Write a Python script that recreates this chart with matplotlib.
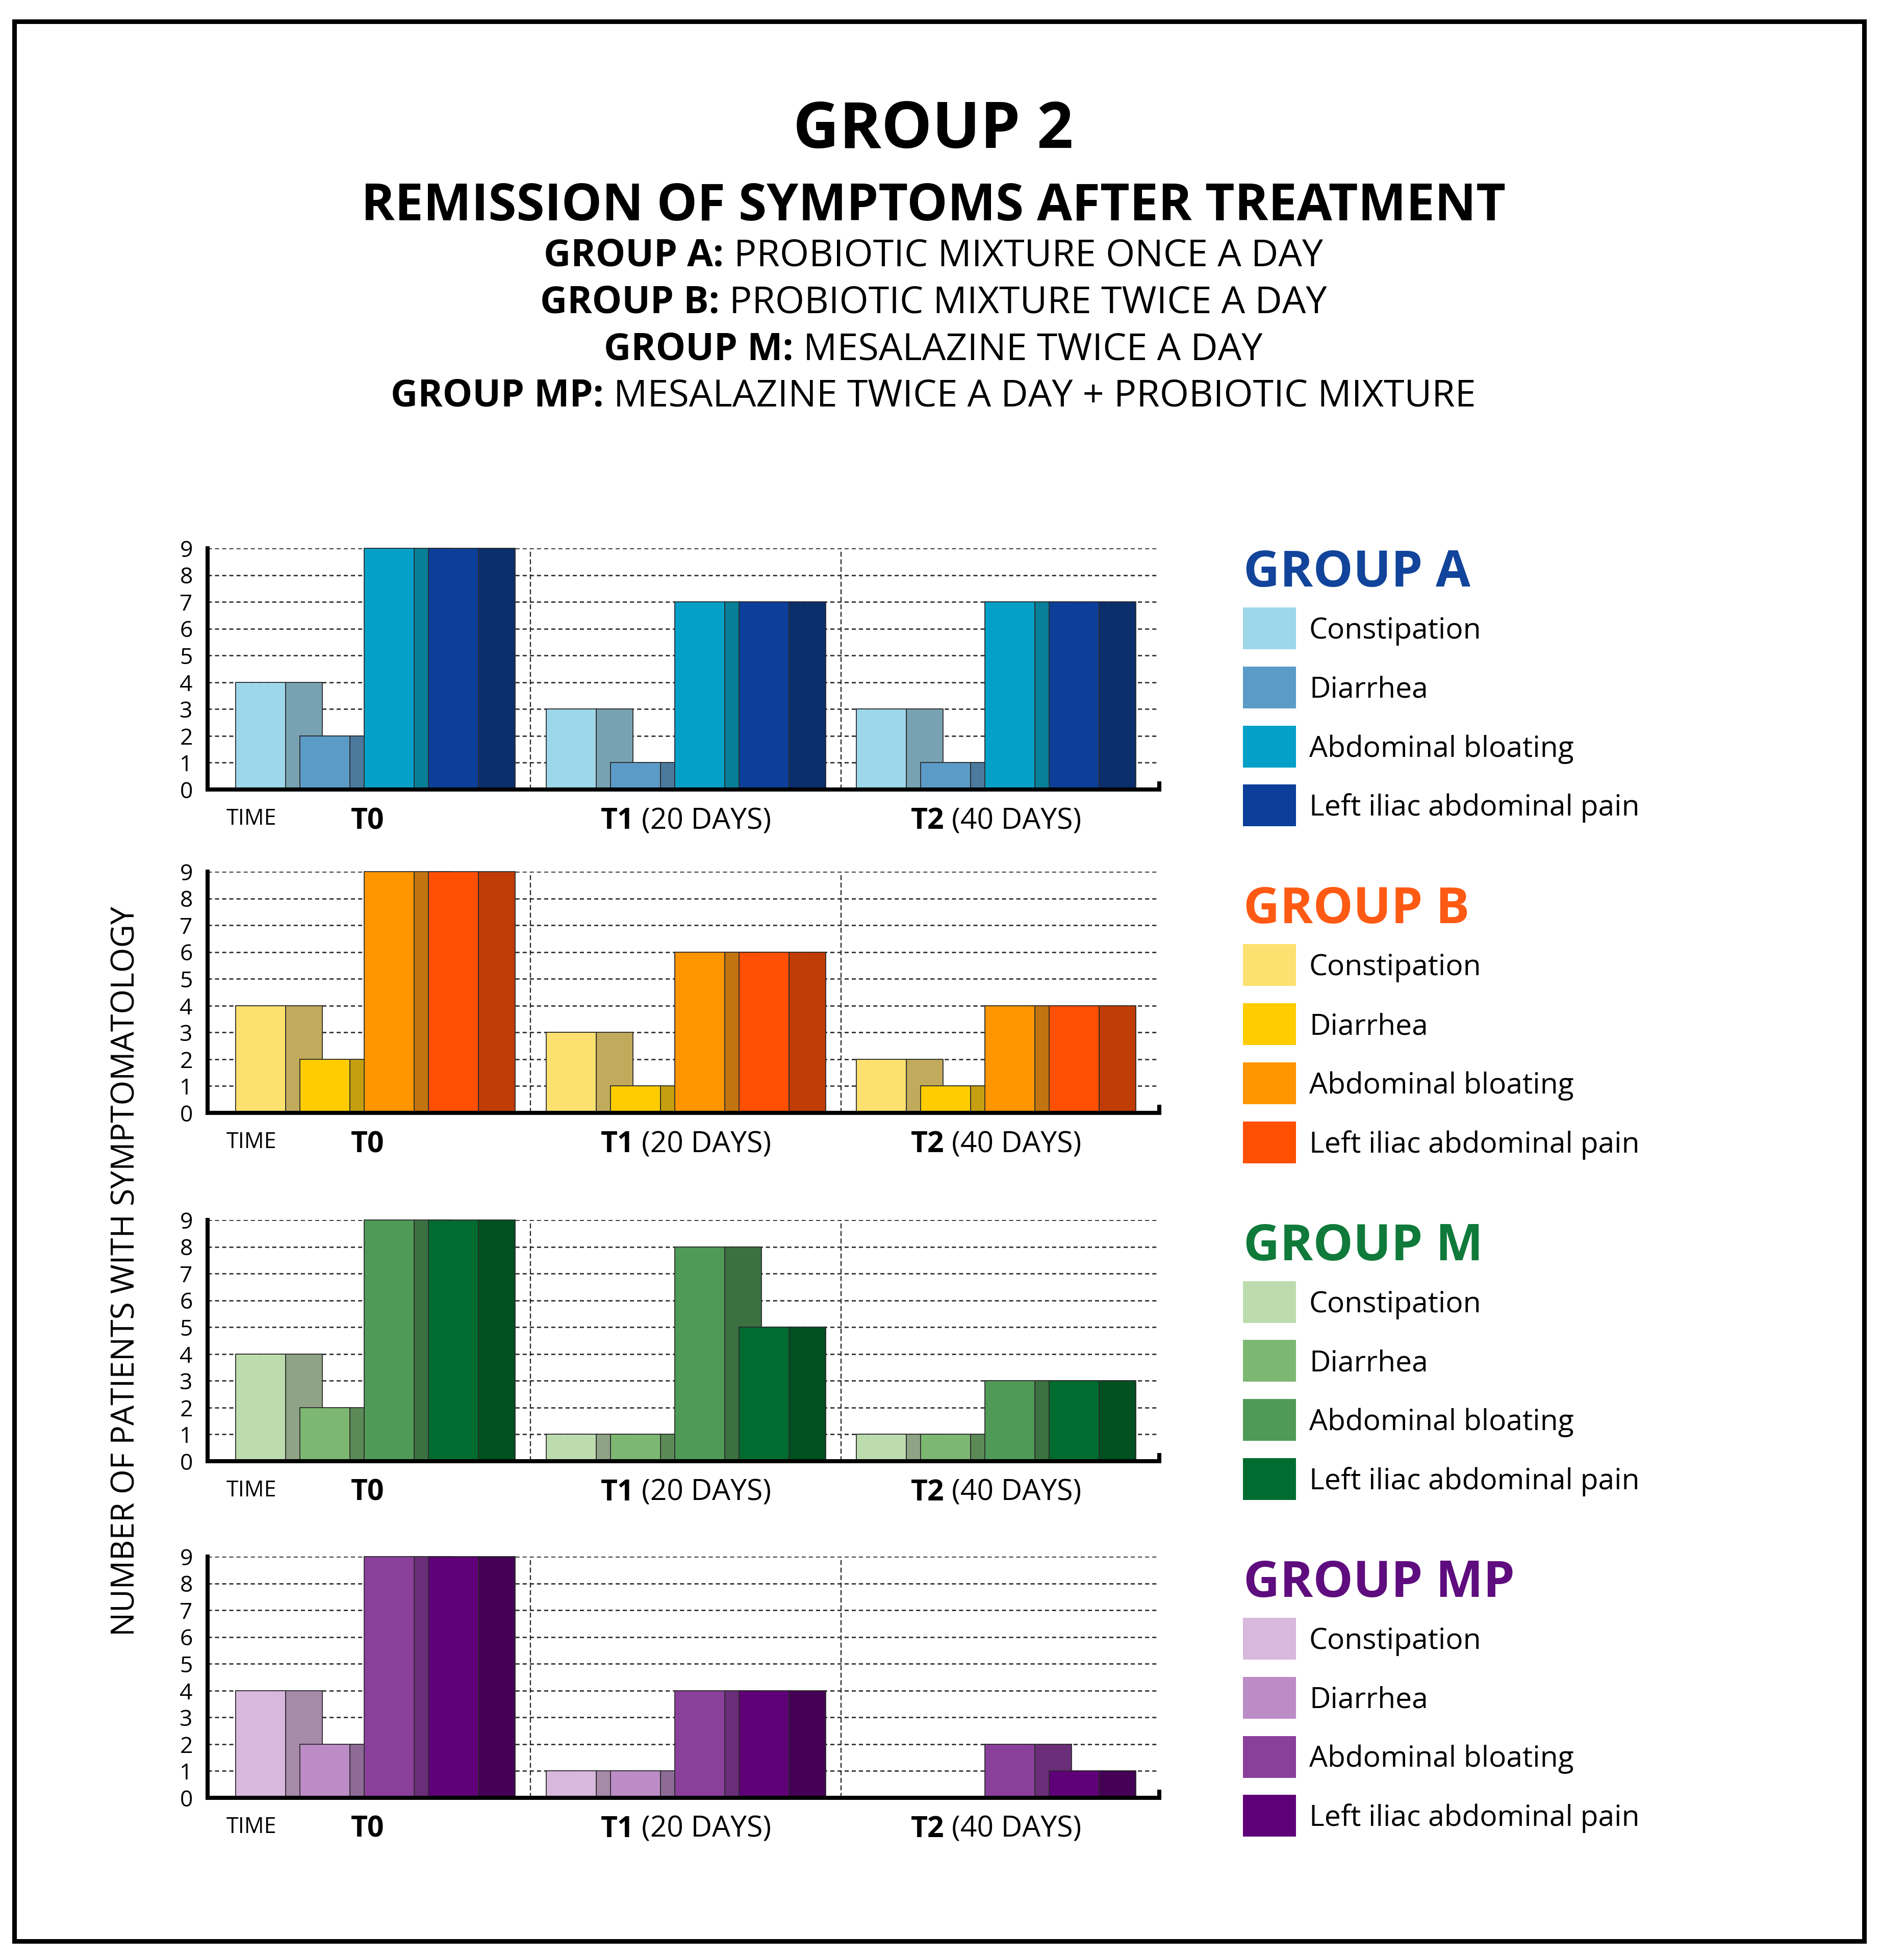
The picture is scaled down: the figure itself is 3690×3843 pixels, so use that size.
import matplotlib
matplotlib.use('Agg')
import matplotlib.pyplot as plt
from matplotlib.patches import Rectangle

plt.rcParams['font.family'] = ['Open Sans', 'DejaVu Sans']
plt.rcParams['lines.scale_dashes'] = False

# dados do grafico
times = ['T0', 'T1', 'T2']
time_notes = ['', '(20 DAYS)', '(40 DAYS)']
symptoms = ['Constipation', 'Diarrhea', 'Abdominal bloating', 'Left iliac abdominal pain']
groups = ['GROUP A', 'GROUP B', 'GROUP M', 'GROUP MP']
treat_bold = ['GROUP A:', 'GROUP B:', 'GROUP M:', 'GROUP MP:']
treat_text = ['PROBIOTIC MIXTURE ONCE A DAY', 'PROBIOTIC MIXTURE TWICE A DAY',
              'MESALAZINE TWICE A DAY', 'MESALAZINE TWICE A DAY + PROBIOTIC MIXTURE']

# linhas = sintomas, colunas = T0, T1, T2
group_a = [[4, 3, 3], [2, 1, 1], [9, 7, 7], [9, 7, 7]]
group_b = [[4, 3, 2], [2, 1, 1], [9, 6, 4], [9, 6, 4]]
group_m = [[4, 1, 1], [2, 1, 1], [9, 8, 3], [9, 5, 3]]
group_mp = [[4, 1, 0], [2, 1, 0], [9, 4, 2], [9, 4, 1]]
all_groups = [group_a, group_b, group_m, group_mp]

title_colors = ['#11449a', '#ff5a14', '#0f7a3a', '#5e0c7e']
front_colors = [['#9dd7ea', '#5b9bc8', '#04a0c8', '#0c3f99'],
                ['#fde170', '#ffcc00', '#ff9500', '#ff4f00'],
                ['#bddcae', '#7db872', '#4f9a56', '#016c2f'],
                ['#d8b8dc', '#bc8cc6', '#8a3f9b', '#600078']]
side_colors = [['#78a2b2', '#4b7a9d', '#087f99', '#0b2e6d'],
               ['#c1aa5b', '#c59f10', '#c27410', '#c03c06'],
               ['#8fa386', '#5c8a57', '#3b7040', '#015020'],
               ['#a68aa8', '#8d6b96', '#6a2e78', '#440055']]

# layout (pixels)
W, H = 3691, 3843
DPI = 100
AX_L, AX_R = 407, 2273
panel_y0 = [1548, 2182, 2865, 3525]
PANEL_H = 473
XMAX = 14.81
GROUP_STEP = 4.83
FIRST = 0.437
FRONT_W = 0.78
SIDE_W = 0.57


def px(x):
    return x / W


def py(y):
    return 1 - y / H


fig = plt.figure(figsize=(W / DPI, H / DPI), dpi=DPI)
rend = fig.canvas.get_renderer()


def two_part(xc, ybase, bold, rest, size, color='black'):
    a = fig.text(px(xc), py(ybase), bold, fontsize=size, fontweight='bold',
                 va='baseline', ha='left', color=color)
    wa = a.get_window_extent(rend).width
    wb = 0
    gap = 0
    b = None
    if rest:
        b = fig.text(px(xc), py(ybase), rest, fontsize=size, va='baseline', ha='left', color=color)
        wb = b.get_window_extent(rend).width
        gap = 0.26 * size / 0.72
    x0 = xc - (wa + gap + wb) / 2
    a.set_x(px(x0))
    if b is not None:
        b.set_x(px(x0 + wa + gap))


# titulos
fig.text(px(1830), py(290), 'GROUP 2', fontsize=90, fontweight='bold', ha='center', va='baseline')
fig.text(px(1830), py(432), 'REMISSION OF SYMPTOMS AFTER TREATMENT', fontsize=72,
         fontweight='bold', ha='center', va='baseline')
for i in range(4):
    two_part(1830, 522 + 91.5 * i, treat_bold[i], treat_text[i], 53)

fig.text(px(247), py(2493), 'NUMBER OF PATIENTS WITH SYMPTOMATOLOGY', fontsize=45,
         rotation=90, ha='center', va='center')

for g in range(4):
    data = all_groups[g]
    y0 = panel_y0[g]
    ax = fig.add_axes([px(AX_L), py(y0), (AX_R - AX_L) / W, PANEL_H / H])
    starts = [FIRST + GROUP_STEP * t for t in range(len(times))]
    for j in range(len(symptoms)):
        xs = [s + j for s in starts]
        ax.bar([x + FRONT_W for x in xs], data[j], width=SIDE_W, align='edge',
               color=side_colors[g][j], edgecolor='#2a2a2a', linewidth=1.3,
               zorder=3 + 2 * j, clip_on=False)
        ax.bar(xs, data[j], width=FRONT_W, align='edge',
               color=front_colors[g][j], edgecolor='#2a2a2a', linewidth=1.3,
               zorder=4 + 2 * j, clip_on=False)

    ends = [s + 3 + FRONT_W + SIDE_W for s in starts]
    for t in range(len(times) - 1):
        ax.axvline((ends[t] + starts[t + 1]) / 2, 0, 1, color='#222222', lw=1.6,
                   linestyle=(0, (7, 3.6)), zorder=1)

    ax.set_xlim(0, XMAX)
    ax.set_ylim(0, 9)
    ax.set_yticks(range(10))
    ax.set_xticks([])
    ax.set_axisbelow(True)
    ax.grid(axis='y', color='#333333', lw=2.0, linestyle=(0, (5.8, 4.3)))
    ax.tick_params(axis='y', length=0, pad=21, labelsize=32)
    for sp in ['top', 'right']:
        ax.spines[sp].set_visible(False)
    for sp in ['left', 'bottom']:
        ax.spines[sp].set_linewidth(5.8)
        ax.spines[sp].set_zorder(20)
    ax.plot([XMAX, XMAX], [0, 0.3], color='black', lw=5.8, clip_on=False,
            solid_capstyle='butt', zorder=20)

    # rotulos do eixo x
    fig.text(px(AX_L + 0.68 * 126), py(y0 + 69), 'TIME', fontsize=31, ha='center', va='baseline')
    for t in range(len(times)):
        shift = -0.12 if t == 0 else 0
        cx = ax.transData.transform((starts[t] + 2.175 + shift, 0))[0]
        two_part(cx, y0 + 77, times[t], time_notes[t], 41)

    # legenda
    ty = panel_y0[0] - 433 + 660.3 * g
    fig.text(px(2438), py(ty + 35), groups[g], fontsize=71, fontweight='bold',
             color=title_colors[g], ha='left', va='baseline')
    for j in range(len(symptoms)):
        cy = ty + 117 + 115.8 * j
        fig.add_artist(Rectangle((px(2437), py(cy + 41)), 104 / W, 82 / H,
                                 transform=fig.transFigure, color=front_colors[g][j], lw=0))
        fig.text(px(2567), py(cy + 20), symptoms[j], fontsize=41, ha='left', va='baseline')

fig.add_artist(Rectangle((px(28), py(3806)), (3655 - 28) / W, (3806 - 42) / H,
                         transform=fig.transFigure, fill=False, lw=6.5, ec='black'))

fig.savefig('out.png', dpi=DPI)
